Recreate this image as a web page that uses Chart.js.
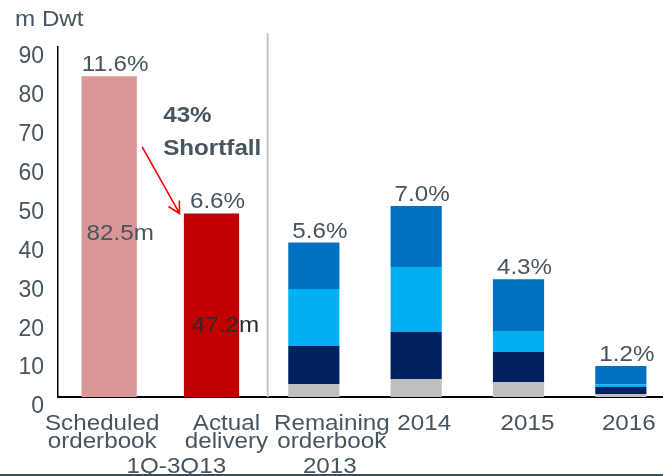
<!DOCTYPE html>
<html>
<head>
<meta charset="utf-8">
<script src="https://cdn.jsdelivr.net/npm/chart.js@4.4.1/dist/chart.umd.min.js"></script>
<style>
html, body { margin: 0; padding: 0; background: #fff; overflow: hidden; width: 663px; height: 476px; }
#wrap { position: absolute; left: 0; top: 0; width: 672px; height: 476px; }
#unit { position: absolute; left: 15px; top: 8px; font: 22px 'Liberation Sans', Arial, sans-serif; line-height: 22px; color: #46555f; transform: scaleX(1.1); transform-origin: left top; }
#foot { position: absolute; left: 0; bottom: 0; width: 663px; height: 2px; background: #3e4c56; }
</style>
</head>
<body>
<div id="wrap"><canvas id="myChart"></canvas></div>
<div id="unit">m Dwt</div>
<div id="foot"></div>
<script>
// categories and values (m Dwt)
const categories = ['Scheduled orderbook', 'Actual delivery', 'Remaining orderbook 2013', '2014', '2015', '2016'];
const xLabelLines = [['Scheduled', 'orderbook'], ['Actual', 'delivery'], ['Remaining', 'orderbook'], ['2014'], ['2015'], ['2016']];
const groupLabels = ['1Q-3Q13', '2013'];
const scheduled = [82.5, null, null, null, null, null];
const actual = [null, 47.2, null, null, null, null];
const segGray = [null, null, 3.3, 4.6, 3.8, 0.8];
const segNavy = [null, null, 9.8, 12.2, 7.8, 1.8];
const segLight = [null, null, 14.7, 16.6, 5.4, 0.7];
const segBlue = [null, null, 11.9, 15.7, 13.3, 4.7];
const pctLabels = ['11.6%', '6.6%', '5.6%', '7.0%', '4.3%', '1.2%'];
const amountLabels = ['82.5m', '47.2m'];
const yTicks = [0, 10, 20, 30, 40, 50, 60, 70, 80, 90];

const family = "'Liberation Sans', Arial, sans-serif";
const textColor = '#46555f';

// text in the original is a bit stretched sideways
function wideText(ctx, text, x, y, align) {
    ctx.save();
    ctx.translate(x, y);
    ctx.scale(1.1, 1);
    ctx.textAlign = align;
    ctx.fillText(text, 0, 0);
    ctx.restore();
}

const overlay = {
    id: 'overlay',
    beforeDatasetsDraw(chart) {
        const { ctx, chartArea, scales: { x } } = chart;
        const sx = (x.getPixelForValue(1) + x.getPixelForValue(2)) / 2 + 5;
        ctx.save();
        ctx.strokeStyle = '#c4c4c4';
        ctx.lineWidth = 2;
        ctx.beginPath();
        ctx.moveTo(sx, chartArea.top - 14);
        ctx.lineTo(sx, chartArea.bottom);
        ctx.stroke();
        ctx.restore();
    },
    afterDatasetsDraw(chart) {
        const { ctx, chartArea, scales: { x, y } } = chart;
        const ds = chart.data.datasets;
        ctx.save();
        ctx.font = '22px ' + family;
        ctx.textBaseline = 'alphabetic';

        // percent labels above bars
        ctx.fillStyle = textColor;
        categories.forEach((c, i) => {
            const total = ds.reduce((s, d) => s + (d.data[i] || 0), 0);
            wideText(ctx, pctLabels[i], x.getPixelForValue(i) + 6, y.getPixelForValue(total) - 5, 'center');
        });

        // amounts inside the first two bars
        const innerAt = [0.49, 0.355];
        const innerShift = [11, 14];
        const innerColor = [textColor, '#2a2a2a'];
        const vals = [scheduled[0], actual[1]];
        amountLabels.forEach((t, i) => {
            ctx.fillStyle = innerColor[i];
            wideText(ctx, t, x.getPixelForValue(i) + innerShift[i], y.getPixelForValue(vals[i] * innerAt[i]), 'center');
        });

        // x labels
        const nudge = [-7, 15, 18, 8, 9, 8];
        ctx.fillStyle = textColor;
        xLabelLines.forEach((lines, i) => {
            lines.forEach((line, j) => {
                wideText(ctx, line, x.getPixelForValue(i) + nudge[i], chartArea.bottom + 33 + j * 18, 'center');
            });
        });
        wideText(ctx, groupLabels[0], (x.getPixelForValue(0) + x.getPixelForValue(1)) / 2 + 16, chartArea.bottom + 76, 'center');
        wideText(ctx, groupLabels[1], x.getPixelForValue(2) + 16, chartArea.bottom + 76, 'center');

        // shortfall note
        ctx.font = 'bold 22px ' + family;
        wideText(ctx, '43%', x.getPixelForValue(0) + 54, y.getPixelForValue(70.7), 'left');
        wideText(ctx, 'Shortfall', x.getPixelForValue(0) + 54, y.getPixelForValue(62.2), 'left');

        // arrow
        const x0 = x.getPixelForValue(0) + 33, y0 = y.getPixelForValue(64.3);
        const x1 = x.getPixelForValue(1) - 32, y1 = y.getPixelForValue(actual[1]);
        const a = Math.atan2(y1 - y0, x1 - x0);
        ctx.strokeStyle = '#ff0000';
        ctx.lineWidth = 1.6;
        ctx.beginPath();
        ctx.moveTo(x0, y0);
        ctx.lineTo(x1, y1);
        ctx.moveTo(x1 - 13 * Math.cos(a - 0.5), y1 - 13 * Math.sin(a - 0.5));
        ctx.lineTo(x1, y1);
        ctx.lineTo(x1 - 13 * Math.cos(a + 0.5), y1 - 13 * Math.sin(a + 0.5));
        ctx.stroke();
        ctx.restore();
    }
};

const ctx = document.getElementById('myChart');
new Chart(ctx, {
    type: 'bar',
    data: {
        labels: categories,
        datasets: [
            { label: 'Scheduled', data: scheduled, backgroundColor: '#d99694', barPercentage: 0.54, categoryPercentage: 1 },
            { label: 'Actual', data: actual, backgroundColor: '#c00000', barPercentage: 0.54, categoryPercentage: 1 },
            { label: 'Gray', data: segGray, backgroundColor: '#bfbfbf', barPercentage: 0.5, categoryPercentage: 1 },
            { label: 'Navy', data: segNavy, backgroundColor: '#002060', barPercentage: 0.5, categoryPercentage: 1 },
            { label: 'Light', data: segLight, backgroundColor: '#00b0f0', barPercentage: 0.5, categoryPercentage: 1 },
            { label: 'Blue', data: segBlue, backgroundColor: '#0070c0', barPercentage: 0.5, categoryPercentage: 1 }
        ]
    },
    options: {
        responsive: true,
        maintainAspectRatio: false,
        animation: false,
        layout: { padding: { top: 47, left: 0, right: 0, bottom: 0 } },
        plugins: { legend: { display: false }, tooltip: { enabled: false } },
        scales: {
            x: {
                stacked: true,
                grid: { display: false },
                border: { display: true, color: '#000', width: 2 },
                ticks: { display: false },
                afterFit: s => { s.height = 79; }
            },
            y: {
                stacked: true,
                min: 0,
                max: 90,
                afterBuildTicks: s => { s.ticks = yTicks.map(v => ({ value: v })); },
                ticks: { labelOffset: 10, padding: 6, color: textColor, font: { family: family, size: 23 } },
                grid: { display: false },
                border: { display: true, color: '#000', width: 1.5 },
                afterFit: s => { s.width = 58; }
            }
        }
    },
    plugins: [overlay]
});
</script>
</body>
</html>
